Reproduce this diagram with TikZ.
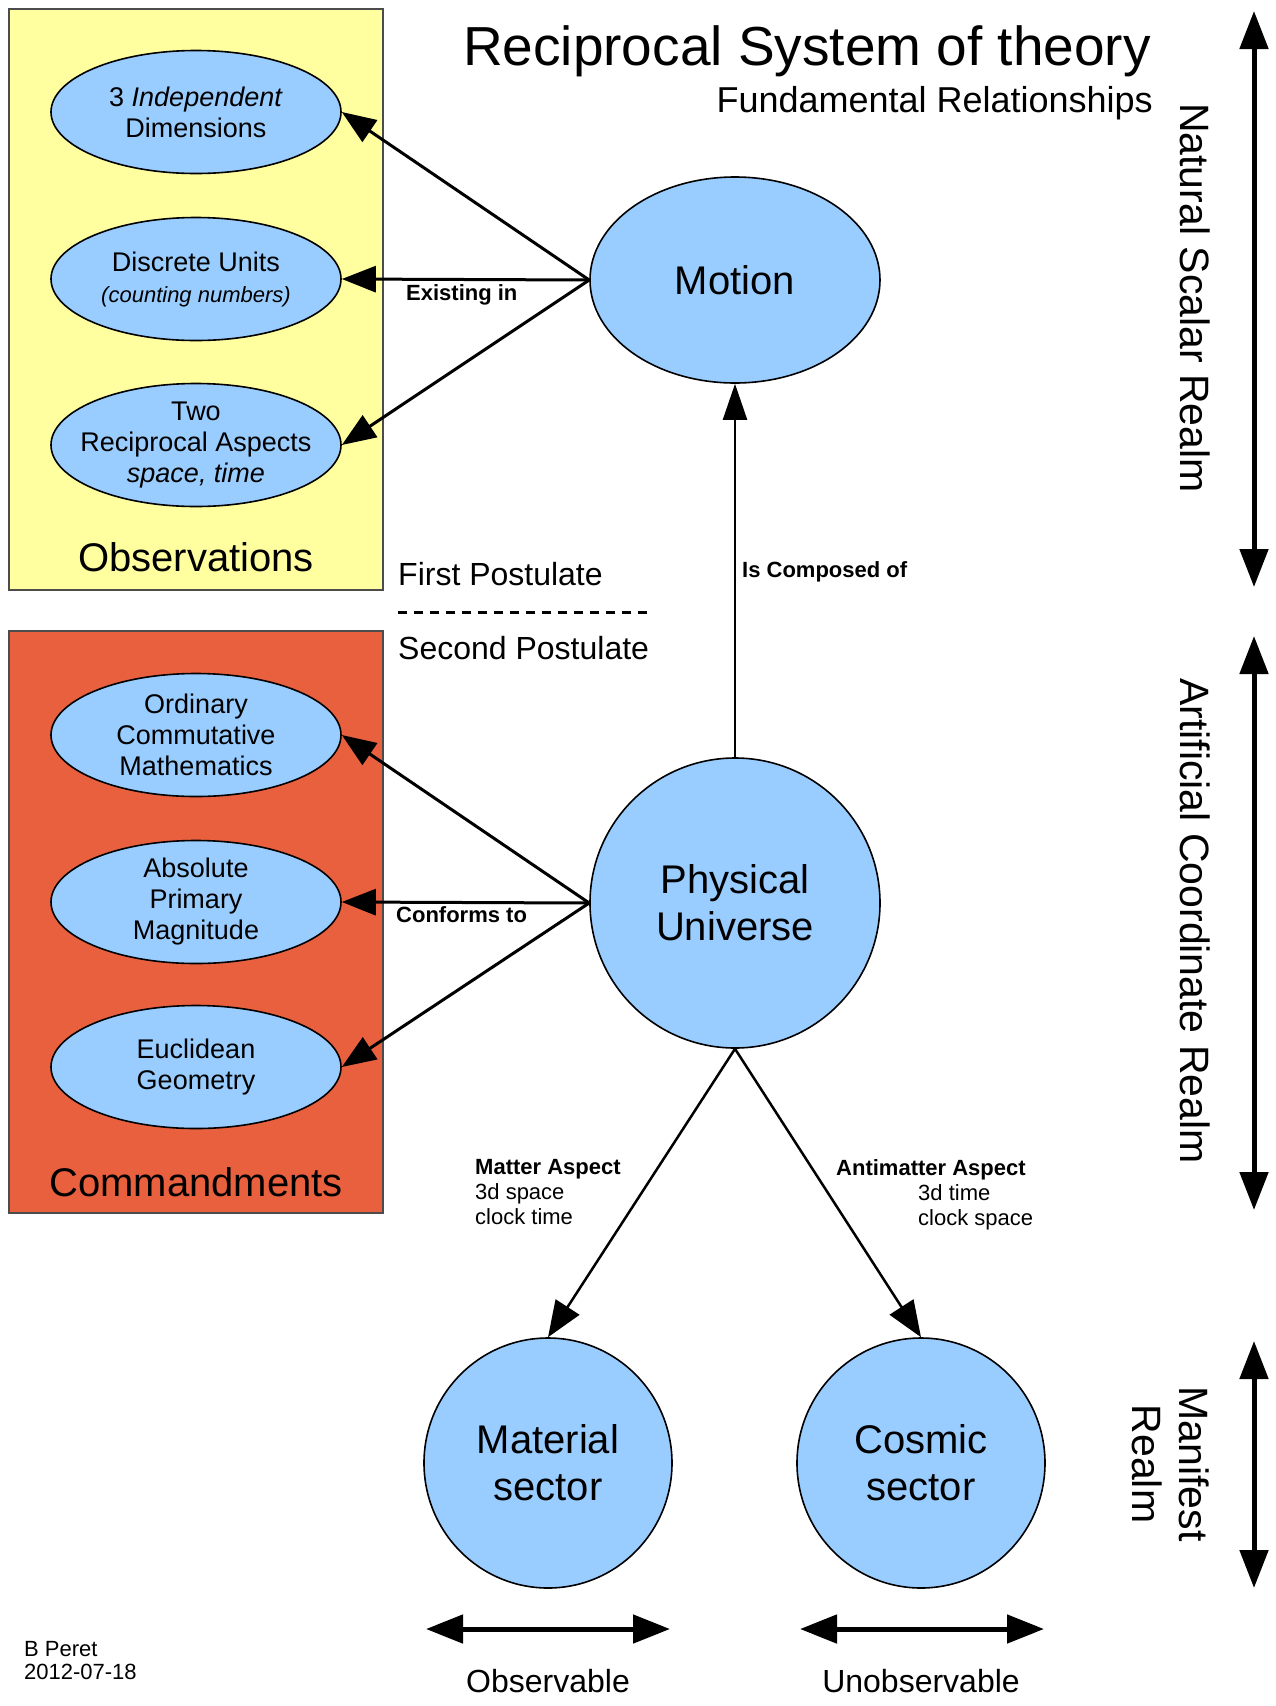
\documentclass[tikz,border=0pt]{standalone}
\usepackage{fontspec}
\setmainfont{Liberation Sans}
\usetikzlibrary{shapes.geometric,arrows.meta}

\definecolor{obsyellow}{RGB}{255,255,160}
\definecolor{cmdred}{RGB}{233,96,62}
\definecolor{bubbleblue}{RGB}{153,204,255}

\newcommand{\setfs}[2]{\fontsize{#1}{#2}\selectfont}

\begin{document}
\begin{tikzpicture}[x=1pt,y=-1pt,
    bubble/.style={ellipse,draw=black,line width=1.6pt,fill=bubbleblue,inner sep=0pt},
    obsbubble/.style={bubble,minimum width=290pt,minimum height=123pt},
    mainbubble/.style={bubble,font=\setfs{40}{47},align=center},
    intext/.style={font=\setfs{27}{31},align=center,inner sep=0pt},
    rel/.style={font=\bfseries\setfs{22}{25},anchor=base west,inner sep=0pt},
    link/.style={line width=3pt,-{Triangle[length=34pt,width=26pt]}},
    realm/.style={line width=5pt,{Triangle[length=38pt,width=28pt]}-{Triangle[length=38pt,width=28pt]}}]

    % Fondo e dimensioni
    \fill[white] (0,0) rectangle (1275,1706);
    \useasboundingbox (0,0) rectangle (1275,1706);

    % Titolo
    \node[font=\setfs{55}{60},anchor=base east,inner sep=0pt] (title) at (1151,65) {Reciprocal System of theory};
    \node[font=\setfs{36}{40},anchor=base east,inner sep=0pt] (subtitle) at (1153,112) {Fundamental Relationships};

    % Riquadri
    \draw[draw=black!70,line width=1.5pt,fill=obsyellow] (9,9) rectangle (383,590);
    \draw[draw=black!70,line width=1.5pt,fill=cmdred] (9,631) rectangle (383,1213);
    \node[font=\setfs{40}{46},anchor=base,inner sep=0pt] (obslbl) at (196,571) {Observations};
    \node[font=\setfs{40}{46},anchor=base,inner sep=0pt] (cmdlbl) at (196,1196) {Commandments};

    % Ellissi delle osservazioni
    \node[obsbubble,label={[intext]center:{3 \textit{Independent}\\Dimensions}}] (dims) at (196,112) {};
    \node[obsbubble,label={[intext]center:{Discrete Units\\{\setfs{22}{27}\itshape (counting numbers)}}}] (units) at (196,279) {};
    \node[obsbubble,label={[intext]center:{Two\\Reciprocal Aspects\\\textit{space, time}}}] (aspects) at (196,445) {};

    % Ellissi dei comandamenti
    \node[obsbubble,label={[intext]center:{Ordinary\\Commutative\\Mathematics}}] (ordmath) at (196,735) {};
    \node[obsbubble,label={[intext]center:{Absolute\\Primary\\Magnitude}}] (absmag) at (196,902) {};
    \node[obsbubble,label={[intext]center:{Euclidean\\Geometry}}] (eucgeo) at (196,1067) {};

    % Nodi principali
    \node[mainbubble,minimum width=290pt,minimum height=206pt] (motion) at (735,280) {Motion};
    \node[mainbubble,minimum size=290pt] (univ) at (735,903) {Physical\\Universe};
    \node[mainbubble,minimum width=248pt,minimum height=250pt] (matsec) at (548,1463) {Material\\sector};
    \node[mainbubble,minimum width=248pt,minimum height=250pt] (cossec) at (921,1463) {Cosmic\\sector};

    % Frecce dal moto
    \draw[link] (motion.west) -- (dims.east);
    \draw[link] (motion.west) -- (units.east);
    \draw[link] (motion.west) -- (aspects.east);
    \node[rel] (exist) at (406,300) {Existing in};

    % Frecce dall'universo fisico
    \draw[link] (univ.west) -- (ordmath.east);
    \draw[link] (univ.west) -- (absmag.east);
    \draw[link] (univ.west) -- (eucgeo.east);
    \node[rel] (conform) at (396,922) {Conforms to};

    \draw[line width=2.2pt,-{Triangle[length=36pt,width=24pt]}] (univ.north) -- (motion.south);
    \node[rel] (composed) at (742,577) {Is Composed of};

    % Postulati
    \node[font=\setfs{32}{38},anchor=base west,inner sep=0pt] (first) at (398,585) {First Postulate};
    \coordinate (dashL) at (398,612);
    \coordinate (dashR) at (648,612);
    \draw[line width=3pt,dash pattern=on 9pt off 7pt] (dashL) -- (dashR);
    \node[font=\setfs{32}{38},anchor=base west,inner sep=0pt] (second) at (398,659) {Second Postulate};

    % Settori
    \draw[line width=2.5pt,-{Triangle[length=36pt,width=28pt]}] (univ.south) -- (matsec.north);
    \draw[line width=2.5pt,-{Triangle[length=36pt,width=28pt]}] (univ.south) -- (cossec.north);
    \node[font=\setfs{22}{25},align=left,anchor=north west,inner sep=0pt] (matter) at (475,1159) {\textbf{Matter Aspect}\\3d space\\clock time};
    \node[rel] (anti) at (836,1175) {Antimatter Aspect};
    \node[font=\setfs{22}{25},align=left,anchor=north west,inner sep=0pt] (antisub) at (918,1184) {3d time\\clock space};

    % Regni
    \coordinate (nsTop) at (1254,11);
    \coordinate (nsBot) at (1254,587);
    \coordinate (acTop) at (1254,636);
    \coordinate (acBot) at (1254,1210);
    \coordinate (mfTop) at (1254,1341);
    \coordinate (mfBot) at (1254,1588);
    \draw[realm] (nsTop) -- (nsBot);
    \draw[realm] (acTop) -- (acBot);
    \draw[realm] (mfTop) -- (mfBot);
    \node[font=\setfs{41}{47},rotate=-90] (natural) at (1195,298) {Natural Scalar Realm};
    \node[font=\setfs{41}{47},rotate=-90] (artificial) at (1195,921) {Artificial Coordinate Realm};
    \node[font=\setfs{41}{47},rotate=-90,align=center] (manifest) at (1171,1464) {Manifest\\Realm};

    % Osservabile / non osservabile
    \coordinate (obsL) at (426,1629);
    \coordinate (obsR) at (670,1629);
    \coordinate (unoL) at (800,1629);
    \coordinate (unoR) at (1044,1629);
    \draw[line width=5pt,{Triangle[length=37pt,width=28pt]}-{Triangle[length=37pt,width=28pt]}] (obsL) -- (obsR);
    \draw[line width=5pt,{Triangle[length=37pt,width=28pt]}-{Triangle[length=37pt,width=28pt]}] (unoL) -- (unoR);
    \node[font=\setfs{32}{38}] (observable) at (548,1681) {Observable};
    \node[font=\setfs{32}{38}] (unobservable) at (921,1681) {Unobservable};

    % Firma
    \node[font=\setfs{22}{23},align=left,anchor=north west,inner sep=0pt] (author) at (24,1641) {B Peret\\2012-07-18};

\end{tikzpicture}
\end{document}
